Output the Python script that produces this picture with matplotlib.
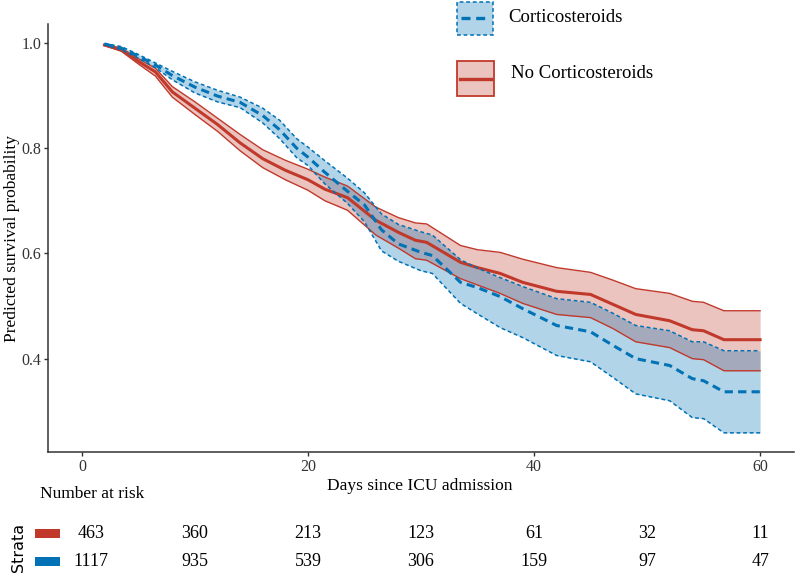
import matplotlib
matplotlib.use('Agg')
import matplotlib.pyplot as plt
import matplotlib.patches as mpatches
import matplotlib.transforms as mtrans
from matplotlib.lines import Line2D

# -- Data --------------------------------------------------------------
days_cs = [2, 3.5, 5, 6.5, 8, 10, 12, 14, 16, 17.5, 19, 20, 21.5, 23.5, 25, 26.5,
           28, 30, 31, 33.5, 35, 37, 39, 42, 45, 47, 49, 52, 54, 55, 56.8, 60]
surv_cs = [.998, .990, .975, .958, .938, .916, .899, .887, .862, .835, .800, .783,
           .754, .718, .692, .645, .618, .602, .596, .545, .535, .518, .495, .463,
           .451, .425, .400, .387, .362, .358, .337, .337]
upper_cs = [.999, .993, .978, .962, .946, .926, .910, .897, .876, .853, .818, .802,
            .776, .743, .715, .675, .655, .641, .635, .588, .572, .554, .537, .514,
            .507, .486, .463, .453, .432, .432, .415, .415]
lower_cs = [.997, .987, .971, .953, .930, .905, .888, .877, .848, .818, .782, .767,
            .732, .695, .660, .605, .585, .567, .562, .505, .485, .459, .440, .406,
            .394, .364, .333, .320, .288, .286, .259, .259]

days_no = [2, 3.5, 5, 6.5, 8, 10, 12, 14, 16, 18, 20, 21.5, 23.5, 26, 28, 29.5,
           30.5, 33.5, 35, 37, 39, 42, 45, 47, 49, 52, 54, 55, 56.8, 60]
surv_no = [.996, .987, .965, .945, .907, .876, .845, .810, .780, .758, .740, .722,
           .706, .663, .640, .625, .621, .583, .573, .562, .545, .528, .522, .503,
           .484, .472, .455, .453, .436, .436]
upper_no = [.997, .990, .970, .952, .917, .888, .857, .826, .797, .777, .760, .745,
            .728, .688, .668, .658, .656, .615, .607, .602, .589, .573, .564, .549,
            .533, .524, .509, .507, .491, .491]
lower_no = [.995, .984, .960, .937, .897, .864, .832, .795, .763, .740, .720, .700,
            .682, .635, .610, .590, .587, .552, .540, .524, .505, .484, .478, .457,
            .432, .421, .400, .398, .377, .377]

risk_days = [0, 10, 20, 30, 40, 50, 60]
risk_no = [463, 360, 213, 123, 61, 32, 11]
risk_cs = [1117, 935, 539, 306, 159, 97, 47]

groups = ["Corticosteroids", "No Corticosteroids"]

# -- Style ---------------------------------------------------------------
C_RED = "#C0392B"
C_BLUE = "#0072B5"
C_AXIS = "#333333"
SERIF = "Liberation Serif"
plt.rcParams['font.family'] = SERIF

W, H = 796, 573
fig = plt.figure(figsize=(W / 100, H / 100), dpi=100, facecolor='white')
ax = fig.add_axes([48 / W, 1 - 452.3 / H, (794 - 48) / W, (452.3 - 24) / H])

# No corticosteroids (red, solid)
ax.fill_between(days_no, lower_no, upper_no, color=C_RED, alpha=0.3, linewidth=0)
ax.plot(days_no, upper_no, color=C_RED, lw=1.0)
ax.plot(days_no, lower_no, color=C_RED, lw=1.0)
ax.plot(days_no, surv_no, color=C_RED, lw=2.2)

# Corticosteroids (blue, dashed) on top
ax.fill_between(days_cs, lower_cs, upper_cs, color=C_BLUE, alpha=0.3, linewidth=0)
ax.plot(days_cs, upper_cs, color=C_BLUE, lw=1.1, linestyle=(0, (2.5, 1.8)))
ax.plot(days_cs, lower_cs, color=C_BLUE, lw=1.1, linestyle=(0, (2.5, 1.8)))
ax.plot(days_cs, surv_cs, color=C_BLUE, lw=2.2, linestyle=(0, (2.7, 1.7)))

ax.set_xlim(-3, 63)
ax.set_ylim(0.222, 1.036)
ax.set_xticks([0, 20, 40, 60])
ax.set_yticks([0.4, 0.6, 0.8, 1.0])
ax.set_yticklabels(["0.4", "0.6", "0.8", "1.0"])
for s in ['top', 'right']:
    ax.spines[s].set_visible(False)
for s in ['left', 'bottom']:
    ax.spines[s].set_color(C_AXIS)
    ax.spines[s].set_linewidth(1.1)
ax.tick_params(direction='out', length=3, width=1.0, color=C_AXIS,
               labelcolor='#333333', labelsize=11.5, pad=2)

fig.text(12 / W, 1 - 238 / H, "Predicted survival probability", ha='center', va='center',
         rotation=90, fontsize=12.5, color='black')
fig.text(420 / W, 1 - 486 / H, "Days since ICU admission", ha='center', va='center',
         fontsize=12.5, color='black')

# -- Legend (drawn manually) ---------------------------------------------
fig.add_artist(mpatches.Rectangle((457 / W, 1 - 35 / H), 36 / W, 33 / H,
               transform=fig.transFigure, facecolor=C_BLUE, alpha=0.3, edgecolor='none'))
fig.add_artist(mpatches.Rectangle((457 / W, 1 - 35 / H), 36 / W, 33 / H,
               transform=fig.transFigure, facecolor='none', edgecolor=C_BLUE,
               lw=1.1, linestyle=(0, (2.5, 1.8))))
fig.add_artist(Line2D([461 / W, 490 / W], [1 - 18 / H, 1 - 18 / H], transform=fig.transFigure,
               color=C_BLUE, lw=2.4, linestyle=(0, (2.7, 1.7))))
fig.add_artist(mpatches.Rectangle((457 / W, 1 - 96 / H), 37 / W, 35 / H,
               transform=fig.transFigure, facecolor=C_RED, alpha=0.3, edgecolor='none'))
fig.add_artist(mpatches.Rectangle((457 / W, 1 - 96 / H), 37 / W, 35 / H,
               transform=fig.transFigure, facecolor='none', edgecolor=C_RED, lw=1.3))
fig.add_artist(Line2D([460 / W, 491 / W], [1 - 78.5 / H, 1 - 78.5 / H], transform=fig.transFigure,
               color=C_RED, lw=2.4))
fig.text(508 / W, 1 - 18 / H, groups[0], ha='left', va='center', fontsize=13.5)
fig.text(511 / W, 1 - 74 / H, groups[1], ha='left', va='center', fontsize=13.5)

# -- Number at risk table ------------------------------------------------
fig.text(40 / W, 1 - 494 / H, "Number at risk", ha='left', va='center', fontsize=12.5)
fig.text(18 / W, 1 - 547 / H, "Strata", ha='center', va='center', rotation=90,
         fontsize=11.5, family='DejaVu Sans')
fig.add_artist(mpatches.Rectangle((35 / W, 1 - 538 / H), 25 / W, 9 / H,
               transform=fig.transFigure, facecolor=C_RED, edgecolor='none'))
fig.add_artist(mpatches.Rectangle((35 / W, 1 - 566 / H), 25 / W, 9 / H,
               transform=fig.transFigure, facecolor=C_BLUE, edgecolor='none'))

trans = mtrans.blended_transform_factory(ax.transData, fig.transFigure)
for d, n_no, n_cs in zip(risk_days, risk_no, risk_cs):
    xd = d + 0.8 if d == 0 else d
    ax.text(xd, 1 - 533 / H, str(n_no), transform=trans, ha='center', va='center',
            fontsize=13, clip_on=False)
    ax.text(xd, 1 - 562 / H, str(n_cs), transform=trans, ha='center', va='center',
            fontsize=13, clip_on=False)

fig.savefig("out.png", dpi=100, facecolor='white')
